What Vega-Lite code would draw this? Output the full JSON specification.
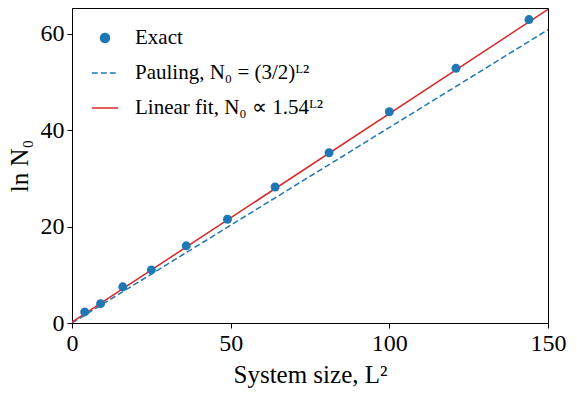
{
  "$schema": "https://vega.github.io/schema/vega-lite/v6.json",
  "autosize": {"type": "none"},
  "width": 476,
  "height": 315,
  "padding": {"left": 72, "top": 8, "right": 29, "bottom": 75},
  "background": "white",
  "config": {
    "view": {"stroke": "black", "strokeWidth": 1},
    "font": "Liberation Serif",
    "axis": {
      "labelFont": "Liberation Serif", "titleFont": "Liberation Serif",
      "labelFontSize": 24, "titleFontSize": 25, "labelColor": "black", "titleColor": "black",
      "titleFontWeight": "normal", "domainColor": "black", "tickColor": "black",
      "tickSize": 5, "grid": false, "labelPadding": 3, "labelFlush": false
    },
    "legend": {"labelFont": "Liberation Serif", "labelFontSize": 21, "labelColor": "black", "labelLimit": 400}
  },
  "data": {"values": [
    {"x": 4, "y": 2.3, "series": "Exact"},
    {"x": 9, "y": 4.0, "series": "Exact"},
    {"x": 16, "y": 7.5, "series": "Exact"},
    {"x": 25, "y": 11.0, "series": "Exact"},
    {"x": 36, "y": 16.0, "series": "Exact"},
    {"x": 49, "y": 21.5, "series": "Exact"},
    {"x": 64, "y": 28.2, "series": "Exact"},
    {"x": 81, "y": 35.3, "series": "Exact"},
    {"x": 100, "y": 43.8, "series": "Exact"},
    {"x": 121, "y": 52.8, "series": "Exact"},
    {"x": 144, "y": 62.9, "series": "Exact"},
    {"x": 0, "y": 0, "series": "Pauling, N₀ = (3/2)ᴸ²"},
    {"x": 150, "y": 60.8, "series": "Pauling, N₀ = (3/2)ᴸ²"},
    {"x": 0, "y": 0.2, "series": "Linear fit, N₀ ∝ 1.54ᴸ²"},
    {"x": 150, "y": 65.0, "series": "Linear fit, N₀ ∝ 1.54ᴸ²"}
  ]},
  "encoding": {
    "x": {"field": "x", "type": "quantitative", "scale": {"domain": [0, 150], "nice": false},
          "axis": {"values": [0, 50, 100, 150], "title": "System size, L²", "titlePadding": 7}},
    "y": {"field": "y", "type": "quantitative", "scale": {"domain": [0, 65.3], "nice": false},
          "axis": {"values": [0, 20, 40, 60], "title": "ln N₀", "titlePadding": 8}},
    "color": {"field": "series", "type": "nominal",
      "scale": {"domain": ["Exact", "Pauling, N₀ = (3/2)ᴸ²", "Linear fit, N₀ ∝ 1.54ᴸ²"],
                "range": ["#1f77b4", "#1f77b4", "#d62728"]},
      "legend": {"title": null, "orient": "none", "legendX": 19, "legendY": 16, "rowPadding": 11,
        "labelOffset": 16, "symbolStrokeWidth": 1.5,
        "encode": {"symbols": {"update": {
          "shape": {"signal": "datum.value === 'Exact' ? 'circle' : 'stroke'"},
          "size": {"signal": "datum.value === 'Exact' ? 80 : 700"},
          "strokeDash": {"signal": "indexof(datum.value, 'Pauling') === 0 ? [6, 3] : [1, 0]"},
          "fill": {"signal": "datum.value === 'Exact' ? '#1f77b4' : 'transparent'"},
          "stroke": {"signal": "datum.value === 'Exact' ? 'transparent' : (indexof(datum.value, 'Pauling') === 0 ? '#1f77b4' : '#d62728')"},
          "strokeWidth": {"value": 1.5}
        }}}}
    }
  },
  "layer": [
    {"transform": [{"filter": "indexof(datum.series, 'Pauling') === 0"}],
     "mark": {"type": "line", "strokeDash": [6, 3], "strokeWidth": 1.5, "clip": true}},
    {"transform": [{"filter": "indexof(datum.series, 'Linear') === 0"}],
     "mark": {"type": "line", "strokeWidth": 1.5, "clip": true}},
    {"transform": [{"filter": "datum.series === 'Exact'"}],
     "mark": {"type": "point", "filled": true, "opacity": 1, "size": 80}}
  ]
}
